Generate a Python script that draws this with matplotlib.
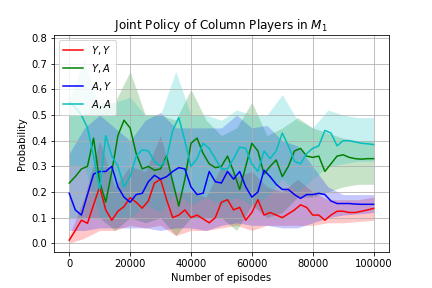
import matplotlib
matplotlib.use("Agg")
import matplotlib.pyplot as plt
import numpy as np

# mean curves, sampled every 2000 episodes
episodes = list(range(0, 100001, 2000))
yy_mean = [0.012, 0.05, 0.09, 0.078, 0.15, 0.22, 0.13, 0.09, 0.125, 0.143,
           0.178, 0.16, 0.137, 0.165, 0.235, 0.25, 0.17, 0.10, 0.11, 0.13,
           0.10, 0.11, 0.095, 0.08, 0.10, 0.16, 0.17, 0.13, 0.14, 0.09,
           0.12, 0.17, 0.11, 0.12, 0.11, 0.10, 0.115, 0.13, 0.15, 0.14,
           0.11, 0.11, 0.09, 0.11, 0.125, 0.125, 0.12, 0.12, 0.125, 0.13, 0.136]
ya_mean = [0.235, 0.26, 0.29, 0.30, 0.41, 0.24, 0.16, 0.28, 0.42, 0.48,
           0.45, 0.35, 0.29, 0.30, 0.285, 0.29, 0.34, 0.24, 0.145, 0.25,
           0.39, 0.41, 0.35, 0.31, 0.295, 0.30, 0.34, 0.28, 0.21, 0.30,
           0.39, 0.36, 0.27, 0.30, 0.325, 0.26, 0.30, 0.36, 0.37, 0.34,
           0.335, 0.34, 0.28, 0.31, 0.34, 0.345, 0.335, 0.33, 0.328, 0.33, 0.33]
ay_mean = [0.195, 0.13, 0.11, 0.19, 0.27, 0.28, 0.28, 0.30, 0.22, 0.18,
           0.16, 0.19, 0.195, 0.24, 0.265, 0.25, 0.26, 0.28, 0.295, 0.29,
           0.22, 0.19, 0.195, 0.28, 0.24, 0.235, 0.28, 0.25, 0.28, 0.22,
           0.18, 0.20, 0.285, 0.26, 0.23, 0.21, 0.21, 0.19, 0.175, 0.19,
           0.19, 0.195, 0.19, 0.165, 0.155, 0.155, 0.155, 0.153, 0.152, 0.152, 0.152]
aa_mean = [0.55, 0.53, 0.50, 0.45, 0.34, 0.21, 0.42, 0.34, 0.30, 0.22,
           0.26, 0.34, 0.365, 0.36, 0.32, 0.30, 0.33, 0.44, 0.49, 0.40,
           0.30, 0.33, 0.39, 0.37, 0.33, 0.29, 0.29, 0.33, 0.375, 0.37,
           0.31, 0.28, 0.36, 0.33, 0.36, 0.43, 0.38, 0.32, 0.31, 0.35,
           0.37, 0.38, 0.44, 0.43, 0.38, 0.40, 0.40, 0.395, 0.39, 0.388, 0.385]

# confidence bands, sampled every 5000 episodes
band_episodes = list(range(0, 100001, 5000))
yy_low = [0.0, 0.02, 0.05, 0.05, 0.07, 0.06, 0.07, 0.03, 0.05, 0.05, 0.06,
          0.07, 0.05, 0.07, 0.07, 0.07, 0.07, 0.08, 0.08, 0.085, 0.09]
yy_high = [0.03, 0.18, 0.40, 0.22, 0.30, 0.28, 0.42, 0.20, 0.20, 0.18, 0.30,
           0.26, 0.28, 0.22, 0.20, 0.25, 0.20, 0.17, 0.17, 0.17, 0.18]
ya_low = [0.10, 0.10, 0.10, 0.05, 0.10, 0.08, 0.10, 0.03, 0.10, 0.10, 0.10,
          0.05, 0.15, 0.10, 0.12, 0.18, 0.18, 0.20, 0.22, 0.23, 0.23]
ya_high = [0.50, 0.50, 0.55, 0.55, 0.67, 0.50, 0.50, 0.48, 0.60, 0.48, 0.42,
           0.45, 0.55, 0.42, 0.45, 0.49, 0.45, 0.43, 0.41, 0.40, 0.40]
ay_low = [0.05, 0.05, 0.06, 0.06, 0.06, 0.06, 0.05, 0.06, 0.06, 0.05, 0.07,
          0.08, 0.07, 0.07, 0.06, 0.06, 0.08, 0.10, 0.11, 0.115, 0.12]
ay_high = [0.35, 0.45, 0.50, 0.45, 0.40, 0.48, 0.51, 0.45, 0.45, 0.45, 0.45,
           0.50, 0.45, 0.46, 0.40, 0.38, 0.30, 0.22, 0.19, 0.19, 0.19]
aa_low = [0.30, 0.30, 0.10, 0.10, 0.10, 0.15, 0.12, 0.20, 0.15, 0.18, 0.15,
          0.18, 0.15, 0.18, 0.25, 0.20, 0.25, 0.30, 0.31, 0.32, 0.32]
aa_high = [0.56, 0.72, 0.52, 0.55, 0.57, 0.50, 0.50, 0.67, 0.50, 0.50, 0.48,
           0.52, 0.50, 0.50, 0.58, 0.48, 0.45, 0.52, 0.50, 0.49, 0.49]

labels = ["$Y, Y$", "$Y, A$", "$A, Y$", "$A, A$"]
colors = ["r", "g", "b", "c"]

fig, ax = plt.subplots(figsize=(6, 4), dpi=72)
fig.subplots_adjust(left=0.125, right=0.9, top=0.88, bottom=0.125)

means = [yy_mean, ya_mean, ay_mean, aa_mean]
lows = [yy_low, ya_low, ay_low, aa_low]
highs = [yy_high, ya_high, ay_high, aa_high]

for lo, hi, c in zip(lows, highs, colors):
    ax.fill_between(band_episodes, lo, hi, color=c, alpha=0.22, linewidth=0)
for m, c, lab in zip(means, colors, labels):
    ax.plot(episodes, m, color=c, label=lab, linewidth=1.5)

ax.set_xlim(-5000, 105000)
ax.set_ylim(-0.034, 0.814)
ax.set_yticks(np.arange(0, 0.81, 0.1))
ax.set_xticks([0, 20000, 40000, 60000, 80000, 100000])
ax.grid(True)
ax.set_title("Joint Policy of Column Players in $M_1$")
ax.set_xlabel("Number of episodes")
ax.set_ylabel("Probability")
ax.legend(loc="upper left")

fig.savefig("out.png", dpi=72)
